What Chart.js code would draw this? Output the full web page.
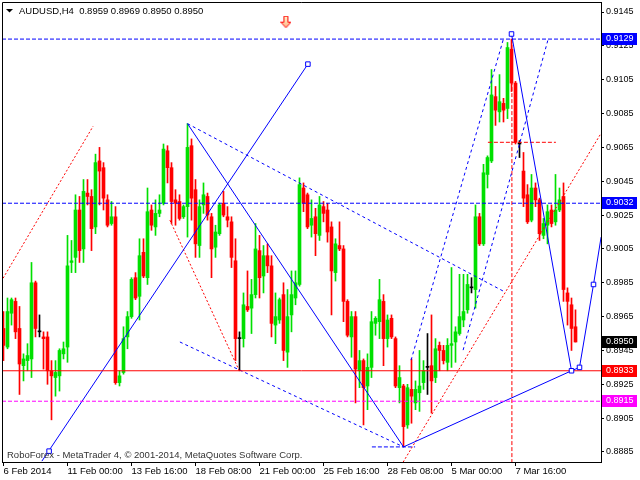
<!DOCTYPE html>
<html>
<head>
<meta charset="utf-8">
<script src="https://cdn.jsdelivr.net/npm/chart.js@4.4.1/dist/chart.umd.min.js"></script>
<style>
  html, body { margin: 0; padding: 0; background: #fff; overflow: hidden; }
</style>
</head>
<body>
<canvas id="chart" width="640" height="480"></canvas>
<script>
// AUDUSD H4 candles, one entry per bar
var open  = [0.8958,0.8947,0.8967,0.8974,0.8958,0.8936,0.8939,0.8940,0.8985,0.8956,
             0.8953,0.8953,0.8933,0.8929,0.8930,0.8943,0.8947,0.8997,0.9000,0.9028,
             0.9005,0.9038,0.9036,0.9018,0.9057,0.9053,0.9034,0.9020,0.9024,0.8926,
             0.8932,0.8953,0.8965,0.8988,0.8977,0.9003,0.8988,0.9028,0.9018,0.9026,
             0.9032,0.9063,0.9053,0.9034,0.9033,0.9024,0.9030,0.9066,0.9040,0.9007,
             0.9031,0.9036,0.9024,0.9006,0.9014,0.9032,0.9024,0.9021,0.8998,0.8952,
             0.8952,0.8971,0.8970,0.8978,0.9004,0.8989,0.9001,0.8995,0.8960,0.8963,
             0.8978,0.8944,0.8966,0.8976,0.8984,0.9041,0.9037,0.9019,0.9024,0.9013,
             0.9030,0.9028,0.9018,0.8991,0.9007,0.9005,0.8974,0.8953,0.8965,0.8933,
             0.8939,0.8924,0.8935,0.8961,0.8962,0.8974,0.8952,0.8964,0.8952,0.8923,
             0.8924,0.8901,0.8922,0.8914,0.8920,0.8926,0.8935,0.8936,0.8929,0.8948,
             0.8945,0.8938,0.8948,0.8950,0.8955,0.8963,0.8969,0.8982,0.8981,0.9024,
             0.9008,0.9049,0.9057,0.9095,0.9086,0.9091,0.9088,0.9123,0.9103,0.9067,
             0.9051,0.9037,0.9022,0.9041,0.9034,0.9013,0.9019,0.9028,0.9021,0.9028,
             0.9036,0.8979,0.8972,0.8959];
var high  = [0.8968,0.8976,0.8976,0.8976,0.8971,0.8943,0.8949,0.8997,0.8986,0.8966,
             0.8956,0.8956,0.8939,0.8939,0.8946,0.8950,0.9013,0.9010,0.9037,0.9036,
             0.9046,0.9046,0.9040,0.9061,0.9065,0.9056,0.9037,0.9033,0.9030,0.8933,
             0.8959,0.8968,0.8988,0.8991,0.9011,0.9011,0.9041,0.9031,0.9034,0.9037,
             0.9067,0.9066,0.9056,0.9040,0.9037,0.9031,0.9079,0.9070,0.9046,0.9034,
             0.9044,0.9038,0.9026,0.9019,0.9032,0.9039,0.9030,0.9024,0.9011,0.8956,
             0.8979,0.8992,0.8987,0.9020,0.9013,0.9007,0.9008,0.9001,0.8979,0.8976,
             0.8985,0.8981,0.8992,0.8992,0.9047,0.9044,0.9038,0.9034,0.9029,0.9036,
             0.9033,0.9032,0.9021,0.9011,0.9021,0.9007,0.8975,0.8968,0.8968,0.8945,
             0.8940,0.8943,0.8968,0.8965,0.8987,0.8978,0.8966,0.8966,0.8953,0.8936,
             0.8925,0.8925,0.8940,0.8927,0.8945,0.8939,0.8955,0.8966,0.8952,0.8950,
             0.8948,0.8952,0.8994,0.8959,0.8990,0.8990,0.8990,0.8988,0.9031,0.9026,
             0.9055,0.9060,0.9111,0.9101,0.9108,0.9094,0.9127,0.9129,0.9104,0.9069,
             0.9062,0.9043,0.9049,0.9044,0.9035,0.9023,0.9031,0.9031,0.9049,0.9041,
             0.9044,0.8982,0.8976,0.8969];
var low   = [0.8939,0.8946,0.8960,0.8952,0.8919,0.8927,0.8933,0.8929,0.8953,0.8953,
             0.8934,0.8925,0.8904,0.8918,0.8921,0.8940,0.8938,0.8991,0.8991,0.8997,
             0.8997,0.9031,0.9004,0.9014,0.9031,0.9028,0.9018,0.9019,0.8925,0.8924,
             0.8931,0.8946,0.8964,0.8975,0.8963,0.8988,0.8984,0.9016,0.9013,0.9024,
             0.9031,0.9044,0.9020,0.9019,0.9022,0.9023,0.9012,0.9022,0.9000,0.9000,
             0.9026,0.9022,0.8988,0.9000,0.9013,0.9024,0.9018,0.8994,0.8939,0.8933,
             0.8947,0.8968,0.8955,0.8976,0.8976,0.8979,0.8991,0.8953,0.8949,0.8961,
             0.8939,0.8935,0.8956,0.8972,0.8983,0.9027,0.9017,0.9012,0.9001,0.9010,
             0.9021,0.9009,0.8966,0.8986,0.9004,0.8962,0.8953,0.8941,0.8914,0.8923,
             0.8901,0.8910,0.8929,0.8954,0.8952,0.8936,0.8947,0.8952,0.8923,0.8914,
             0.8888,0.8899,0.8902,0.8910,0.8909,0.8922,0.8919,0.8908,0.8926,0.8933,
             0.8937,0.8933,0.8935,0.8938,0.8954,0.8959,0.8967,0.8979,0.8970,0.9007,
             0.9007,0.9041,0.9056,0.9078,0.9080,0.9080,0.9082,0.9098,0.9067,0.9059,
             0.9030,0.9020,0.9021,0.9030,0.9010,0.9011,0.9008,0.9018,0.9019,0.9027,
             0.8974,0.8960,0.8945,0.8950];
var close = [0.8948,0.8968,0.8975,0.8956,0.8937,0.8940,0.8942,0.8985,0.8958,0.8956,
             0.8952,0.8933,0.8930,0.8932,0.8945,0.8946,0.8995,0.8998,0.9028,0.9004,
             0.9039,0.9036,0.9017,0.9056,0.9051,0.9035,0.9019,0.9024,0.8926,0.8930,
             0.8952,0.8965,0.8987,0.8976,0.9001,0.8989,0.9027,0.9019,0.9026,0.9028,
             0.9064,0.9053,0.9033,0.9032,0.9023,0.9030,0.9065,0.9035,0.9008,0.9030,
             0.9037,0.9025,0.9005,0.9015,0.9031,0.9025,0.9022,0.9000,0.8952,0.8952,
             0.8972,0.8969,0.8978,0.9005,0.8988,0.9001,0.8995,0.8961,0.8965,0.8975,
             0.8945,0.8965,0.8978,0.8985,0.9043,0.9032,0.9018,0.9023,0.9014,0.9031,
             0.9026,0.9015,0.8992,0.9008,0.9005,0.8974,0.8954,0.8965,0.8934,0.8939,
             0.8923,0.8935,0.8962,0.8964,0.8975,0.8952,0.8963,0.8953,0.8924,0.8929,
             0.8900,0.8923,0.8918,0.8922,0.8924,0.8933,0.8935,0.8927,0.8946,0.8945,
             0.8939,0.8948,0.8949,0.8956,0.8965,0.8968,0.8984,0.8982,0.9024,0.9008,
             0.9050,0.9059,0.9096,0.9087,0.9092,0.9087,0.9124,0.9103,0.9068,0.9067,
             0.9035,0.9021,0.9041,0.9034,0.9014,0.9020,0.9027,0.9020,0.9028,0.9034,
             0.8981,0.8974,0.8958,0.8950];

// time axis: bar index of each label
var tickIdx = [0, 16, 32, 48, 64, 80, 96, 112, 128];
var tickLabels = ['6 Feb 2014', '11 Feb 00:00', '13 Feb 16:00', '18 Feb 08:00', '21 Feb 00:00',
                  '25 Feb 16:00', '28 Feb 08:00', '5 Mar 00:00', '7 Mar 16:00'];
var priceTicks = [0.8885, 0.8905, 0.8925, 0.8945, 0.8965, 0.8985, 0.9005,
                  0.9025, 0.9045, 0.9065, 0.9085, 0.9105, 0.9125, 0.9145];

// drawn objects, as [bar index, price]
var levels      = [0.9129, 0.9032, 0.8933, 0.8915];
var trendLong   = [[9.6, 0.88796], [76.1, 0.91142]];
var zigzagDown  = [[46, 0.9079], [100, 0.8888], [142, 0.8933]];
var zigzagPeak  = [[127, 0.9132], [142, 0.8933], [144, 0.8935], [147.5, 0.8984], [149.4, 0.9012]];
var anchors     = [[11.4, 0.88855], [76.1, 0.91142], [127, 0.9132], [142, 0.8933], [144, 0.8935], [147.5, 0.8984]];
var dashUpper   = [[46, 0.9079], [125.4, 0.89795]];
var dashLower   = [[44.1, 0.8950], [100, 0.8888]];
var dashFlat    = [[92.1, 0.8888], [102.9, 0.8888]];
var chanLeft    = [[101.9, 0.89393], [124.9, 0.91284]];
var chanRight   = [[114.9, 0.89452], [136.1, 0.91284]];
var dotA        = [[-0.1, 0.89877], [22.4, 0.90775]];
var dotB        = [[41.6, 0.9022], [59.1, 0.89322]];
var dotC        = [[99.9, 0.8879], [149.4, 0.90734]];
var redFlat     = [[121.1, 0.9068], [138.1, 0.9068]];
var redVert     = [[127.1, 0.9129], [127.1, 0.8879]];
var arrowAt     = [[70.6, 0.9139]];

var X_MIN = -0.375, X_MAX = 149.375;
var Y_MIN = 0.887909, Y_MAX = 0.915091;
var FONT = 'Liberation Sans';

var last = close.length - 1;
var header = 'AUDUSD,H4  ' + [open[last], high[last], low[last], close[last]].map(function (v) { return v.toFixed(4); }).join(' ');

var colors = open.map(function (o, i) {
  if (close[i] > o) return '#00e000';
  if (close[i] < o) return '#ff0000';
  return '#000000';
});

function pts(arr) {
  return arr.map(function (p) { return { x: p[0], y: p[1] }; });
}

function line(arr, color, dash) {
  return {
    type: 'line', data: pts(arr), borderColor: color, borderWidth: 1,
    borderDash: dash || [], pointRadius: 0, fill: false, tension: 0, order: 1
  };
}

// red down arrow marker
var arrow = document.createElement('canvas');
arrow.width = 11; arrow.height = 13;
(function () {
  var c = arrow.getContext('2d');
  var g = c.createLinearGradient(0, 0, 0, 13);
  g.addColorStop(0, '#fff8d0');
  g.addColorStop(1, '#ffb080');
  c.beginPath();
  c.moveTo(3.5, 0.5); c.lineTo(7.5, 0.5); c.lineTo(7.5, 6.5); c.lineTo(10.5, 6.5);
  c.lineTo(5.5, 12); c.lineTo(0.5, 6.5); c.lineTo(3.5, 6.5); c.closePath();
  c.fillStyle = g; c.fill();
  c.strokeStyle = '#ff0000'; c.lineWidth = 1; c.stroke();
})();

var tags = [
  { v: levels[0], bg: '#0000ff' },
  { v: levels[1], bg: '#0000ff' },
  { v: close[last], bg: '#000000' },
  { v: levels[2], bg: '#ff0000' },
  { v: levels[3], bg: '#ff00ff' }
];

var decor = {
  id: 'decor',
  beforeDraw: function (chart) {
    var ctx = chart.ctx;
    ctx.save();
    ctx.fillStyle = '#ffffff';
    ctx.fillRect(0, 0, chart.width, chart.height);
    ctx.restore();
  },
  afterDraw: function (chart) {
    var ctx = chart.ctx, a = chart.chartArea, y = chart.scales.y;
    ctx.save();
    ctx.strokeStyle = '#000';
    ctx.lineWidth = 1;
    ctx.beginPath();
    ctx.moveTo(a.left + 0.5, a.bottom);
    ctx.lineTo(a.left + 0.5, a.top + 0.5);
    ctx.lineTo(a.right, a.top + 0.5);
    ctx.stroke();

    ctx.font = '9.5px "' + FONT + '"';
    ctx.textBaseline = 'middle';
    ctx.textAlign = 'left';

    // header
    ctx.fillStyle = '#000';
    ctx.beginPath();
    ctx.moveTo(a.left + 4, a.top + 7);
    ctx.lineTo(a.left + 11, a.top + 7);
    ctx.lineTo(a.left + 7.5, a.top + 10.5);
    ctx.closePath();
    ctx.fill();
    ctx.fillText(header, a.left + 17, a.top + 9);

    // footer
    ctx.fillStyle = '#333';
    ctx.fillText('RoboForex - MetaTrader 4, \u00a9 2001-2014, MetaQuotes Software Corp.', a.left + 5, a.bottom - 7);

    // price tags on the axis
    ctx.font = '9px "' + FONT + '"';
    tags.forEach(function (t) {
      var py = Math.round(y.getPixelForValue(t.v));
      ctx.fillStyle = t.bg;
      ctx.fillRect(a.right + 1, py - 6, 35, 12);
      ctx.fillStyle = '#fff';
      ctx.fillText(t.v.toFixed(4), a.right + 5, py);
    });
    ctx.restore();
  }
};

var idx = open.map(function (_, i) { return i; });

new Chart(document.getElementById('chart'), {
  type: 'bar',
  data: {
    datasets: [
      line([[X_MIN, levels[0]], [X_MAX, levels[0]]], '#0000ff', [4, 2]),
      line([[X_MIN, levels[1]], [X_MAX, levels[1]]], '#0000ff', [4, 2]),
      line([[X_MIN, levels[2]], [X_MAX, levels[2]]], '#ff0000'),
      line([[X_MIN, levels[3]], [X_MAX, levels[3]]], '#ff00ff', [4, 2]),
      line(trendLong, '#0000ff'),
      line(zigzagDown, '#0000ff'),
      line(zigzagPeak, '#0000ff'),
      line(dashUpper, '#0000ff', [3, 3]),
      line(dashLower, '#0000ff', [3, 3]),
      line(dashFlat, '#0000ff', [4, 2]),
      line(chanLeft, '#0000ff', [3, 3]),
      line(chanRight, '#0000ff', [3, 3]),
      line(dotA, '#ff0000', [2, 2]),
      line(dotB, '#ff0000', [2, 2]),
      line(dotC, '#ff0000', [2, 2]),
      line(redFlat, '#ff0000', [4, 2]),
      line(redVert, '#ff0000', [4, 2]),
      {
        type: 'line', data: pts(anchors), showLine: false, pointStyle: 'rect',
        pointRadius: 3.2, pointBackgroundColor: '#ffffff', pointBorderColor: '#0000ff',
        pointBorderWidth: 1, order: 0
      },
      {
        type: 'line', data: pts(arrowAt), showLine: false, pointStyle: arrow,
        pointRadius: 6, order: 0, clip: false
      },
      {
        type: 'bar', data: idx.map(function (i) { return { x: i, y: [low[i], high[i]] }; }),
        backgroundColor: colors, barThickness: 1, grouped: false, minBarLength: 1, order: 10
      },
      {
        type: 'bar', data: idx.map(function (i) { return { x: i, y: [open[i], close[i]] }; }),
        backgroundColor: colors, barThickness: 3, grouped: false, minBarLength: 1, order: 9
      }
    ]
  },
  options: {
    responsive: false,
    animation: false,
    events: [],
    layout: { autoPadding: false, padding: { left: 2, top: 2, right: 0, bottom: 0 } },
    plugins: { legend: { display: false }, tooltip: { enabled: false } },
    scales: {
      x: {
        type: 'linear', position: 'bottom', min: X_MIN, max: X_MAX, offset: false,
        afterBuildTicks: function (s) { s.ticks = tickIdx.map(function (v) { return { value: v }; }); },
        afterFit: function (s) {
          s.height = 18;
          s.paddingLeft = 0; s.paddingRight = 0;
        },
        grid: { display: true, drawOnChartArea: false, drawTicks: true, tickLength: 4, color: '#000', offset: false },
        border: { display: true, color: '#000' },
        ticks: {
          autoSkip: false, maxRotation: 0, minRotation: 0, align: 'start', padding: 0,
          color: '#000', font: { family: FONT, size: 9.5 },
          callback: function (v, i) { return tickLabels[i]; }
        }
      },
      y: {
        type: 'linear', position: 'right', min: Y_MIN, max: Y_MAX,
        afterBuildTicks: function (s) { s.ticks = priceTicks.map(function (v) { return { value: v }; }); },
        afterFit: function (s) {
          s.width = 39;
          s.paddingTop = 0; s.paddingBottom = 0;
        },
        grid: { display: true, drawOnChartArea: false, drawTicks: true, tickLength: 3, color: '#000' },
        border: { display: true, color: '#000' },
        ticks: {
          padding: 2, color: '#000', font: { family: FONT, size: 9 },
          callback: function (v) { return v.toFixed(4); }
        }
      }
    }
  },
  plugins: [decor]
});
</script>
</body>
</html>
